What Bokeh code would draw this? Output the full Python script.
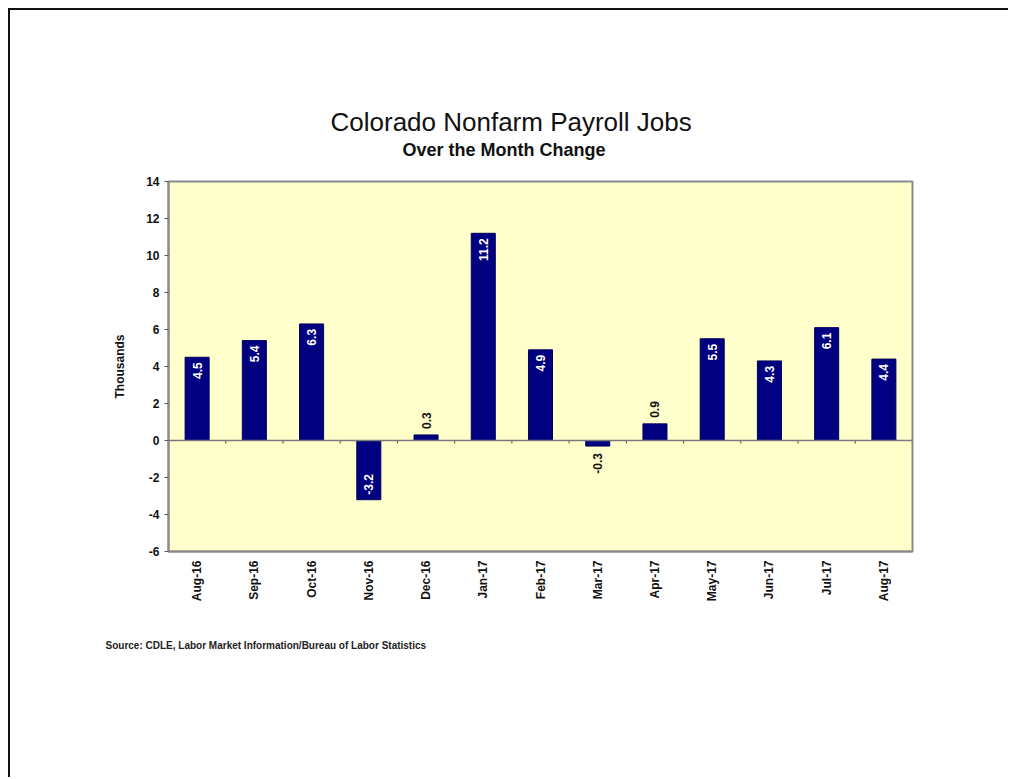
import math
from bokeh.plotting import figure
from bokeh.models import ColumnDataSource, FactorRange, Range1d, Span, FixedTicker, Title
from bokeh.core.properties import value
from bokeh.embed import file_html
from bokeh.resources import INLINE

months = ["Aug-16", "Sep-16", "Oct-16", "Nov-16", "Dec-16", "Jan-17", "Feb-17",
          "Mar-17", "Apr-17", "May-17", "Jun-17", "Jul-17", "Aug-17"]
change = [4.5, 5.4, 6.3, -3.2, 0.3, 11.2, 4.9, -0.3, 0.9, 5.5, 4.3, 6.1, 4.4]
y_ticks = [-6, -4, -2, 0, 2, 4, 6, 8, 10, 12, 14]

title_text = "Colorado Nonfarm Payroll Jobs"
subtitle_text = "Over the Month Change"
source_text = "Source: CDLE, Labor Market Information/Bureau of Labor Statistics"
y_title = "Thousands"

FONT = "Liberation Sans"
W, H = 1000, 769

p = figure(width=W, height=H, x_range=FactorRange(*months), y_range=Range1d(-6, 14),
           output_backend="svg", toolbar_location=None,
           min_border_left=158, min_border_right=98, min_border_top=171, min_border_bottom=228)
p.styles = {"margin-left": "8px", "margin-top": "8px",
            "border-top": "2px solid #111111", "border-left": "2px solid #111111"}
p.background_fill_color = "#FFFFCC"
p.border_fill_color = "white"
p.outline_line_color = "#8a8a8a"
p.outline_line_width = 2
p.xgrid.visible = False
p.ygrid.visible = False

p.yaxis.ticker = FixedTicker(ticks=y_ticks)
p.yaxis.major_label_overrides = {t: str(t) for t in y_ticks}
p.yaxis.axis_line_color = "#8a8a8a"
p.yaxis.axis_line_width = 2
p.yaxis.major_tick_line_color = "#555555"
p.yaxis.major_tick_out = 4
p.yaxis.major_tick_in = 0
p.yaxis.minor_tick_line_color = None
p.yaxis.major_label_standoff = 5
p.yaxis.major_label_text_font = FONT
p.yaxis.major_label_text_font_style = "bold"
p.yaxis.major_label_text_font_size = "12px"
p.yaxis.major_label_text_color = "#111111"
p.yaxis.axis_label = y_title
p.yaxis.axis_label_text_font = FONT
p.yaxis.axis_label_text_font_style = "bold"
p.yaxis.axis_label_text_font_size = "12px"
p.yaxis.axis_label_text_color = "#111111"
p.yaxis.axis_label_standoff = 16

p.xaxis.axis_line_color = "#8a8a8a"
p.xaxis.axis_line_width = 2
p.xaxis.major_tick_line_color = None
p.xaxis.minor_tick_line_color = None
p.xaxis.major_label_orientation = math.pi / 2
p.xaxis.major_label_standoff = 3
p.xaxis.major_label_text_font = FONT
p.xaxis.major_label_text_font_style = "bold"
p.xaxis.major_label_text_font_size = "12px"
p.xaxis.major_label_text_color = "#111111"

# zero line with category-boundary ticks
p.add_layout(Span(location=0, dimension="width", line_color="#7a7a7a", line_width=1.5))
bounds = list(range(1, len(months)))
p.segment(x0=bounds, y0=[0] * len(bounds), x1=bounds, y1=[-0.17] * len(bounds),
          line_color="#555555", line_width=1)

src = ColumnDataSource(dict(month=months, change=change))
p.vbar(x="month", top="change", bottom=0, width=0.42, source=src,
       fill_color="#000080", line_color="#00005a", line_width=1)


def grp(cond):
    idx = [i for i, v in enumerate(change) if cond(v)]
    return dict(month=[months[i] for i in idx], change=[change[i] for i in idx],
                label=[f"{change[i]:.1f}" for i in idx])


common = dict(angle=math.pi / 2, text_baseline="middle", text_font=value(FONT),
              text_font_style="bold", text_font_size="12px")
p.text(x="month", y="change", text="label", source=ColumnDataSource(grp(lambda v: v >= 1)),
       text_align="right", y_offset=5, text_color="white", **common)
p.text(x="month", y="change", text="label", source=ColumnDataSource(grp(lambda v: v <= -1)),
       text_align="left", y_offset=-5, text_color="white", **common)
p.text(x="month", y="change", text="label", source=ColumnDataSource(grp(lambda v: 0 <= v < 1)),
       text_align="left", y_offset=-6, text_color="#111111", **common)
p.text(x="month", y="change", text="label", source=ColumnDataSource(grp(lambda v: -1 < v < 0)),
       text_align="right", y_offset=7, text_color="#111111", **common)

# titles (above): a blank spacer next to the frame, then subtitle, then title
p.add_layout(Title(text=" ", text_font=FONT, text_font_size="2px", standoff=17), "above")
p.add_layout(Title(text=subtitle_text, align="left", offset=234, standoff=2,
                   text_font=FONT, text_font_style="bold", text_font_size="18px",
                   text_color="#111111"), "above")
p.add_layout(Title(text=title_text, align="left", offset=162, standoff=0,
                   text_font=FONT, text_font_style="normal", text_font_size="26px",
                   text_color="#111111"), "above")
# source note (below)
p.add_layout(Title(text=source_text, align="left", offset=-63, standoff=66,
                   text_font=FONT, text_font_style="bold", text_font_size="10px",
                   text_color="#222222"), "below")

open("out.html", "w").write(file_html(p, INLINE))
